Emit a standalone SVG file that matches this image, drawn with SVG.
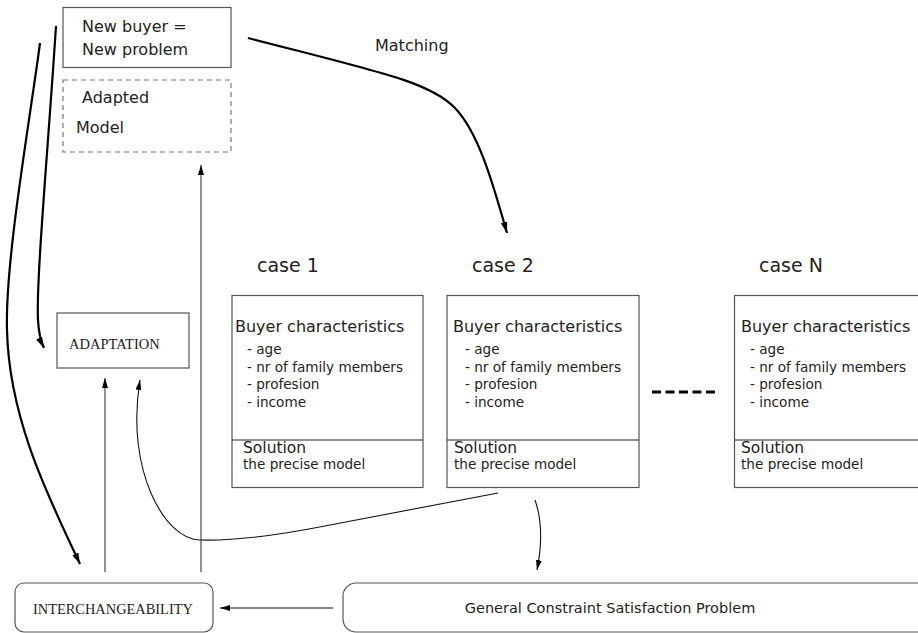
<svg xmlns="http://www.w3.org/2000/svg" width="918" height="633" viewBox="0 0 918 633">
<defs>
<style>
.box{fill:#fff;stroke:#555;stroke-width:1.2}
.dash{fill:none;stroke:#777;stroke-width:1.2;stroke-dasharray:5,4}
.sans{font-family:"DejaVu Sans","Liberation Sans",sans-serif;fill:#222}
.serif{font-family:"Liberation Serif","Times New Roman",serif;fill:#222}
.t16{font-size:16px}
.t13{font-size:13.6px}
.t15{font-size:15.5px}
.case{font-size:19px}
.thick{fill:none;stroke:#000;stroke-width:2.2}
.thin{fill:none;stroke:#111;stroke-width:1.1}
.gray{fill:none;stroke:#777;stroke-width:1.6}
.div{stroke:#222;stroke-width:1.1}
</style>
<marker id="ah" viewBox="0 0 10 6" refX="10" refY="3" markerWidth="11" markerHeight="7" markerUnits="userSpaceOnUse" orient="auto"><path d="M0,0 L10,3 L0,6 z" fill="#000"/></marker>
<marker id="ahs" viewBox="0 0 10 6" refX="10" refY="3" markerWidth="10" markerHeight="6" markerUnits="userSpaceOnUse" orient="auto"><path d="M0,0 L10,3 L0,6 z" fill="#000"/></marker>
</defs>
<rect width="918" height="633" fill="#fff"/>

<g id="connectors">
<path class="thick" d="M248,38 C 380,72 430,82 455,108 C 478,132 492,180 507,233" marker-end="url(#ah)"/>
<path class="thick" d="M40,43 C 30,120 5,260 7,330 C 9,420 50,500 80,564" marker-end="url(#ah)"/>
<path class="thick" d="M56,26 C 48,150 36,280 38,320 Q 39,338 44,348" marker-end="url(#ah)"/>
<path class="gray" d="M105,572 L105,378" marker-end="url(#ahs)"/>
<path class="gray" d="M201,572 L201,165" marker-end="url(#ahs)"/>
<path class="thin" d="M498,493 L330,525 C 270,537 230,541 200,540 C 165,540 125,470 140,380" marker-end="url(#ahs)"/>
<path class="thin" d="M535,500 C 542,520 542,545 537,570" marker-end="url(#ahs)"/>
<path class="thin" d="M333,608 L220,608" marker-end="url(#ahs)"/>
<line x1="652" y1="392" x2="715" y2="392" stroke="#000" stroke-width="3" stroke-dasharray="9,4.5"/>
<text class="sans t16" x="375" y="51">Matching</text>
</g>

<g id="new-buyer">
<rect class="box" x="63" y="7.5" width="168" height="60"/>
<text class="sans t16" x="82" y="32">New buyer =</text>
<text class="sans t16" x="82" y="55">New problem</text>
</g>

<g id="adapted-model">
<rect class="dash" x="63" y="80" width="168" height="72"/>
<text class="sans t16" x="82" y="103">Adapted</text>
<text class="sans t16" x="76" y="133">Model</text>
</g>

<g id="adaptation">
<rect class="box" x="57" y="313" width="132" height="55"/>
<text class="serif" font-size="14.5" x="69" y="349">ADAPTATION</text>
</g>

<g id="interchangeability">
<rect class="box" x="15" y="583" width="198" height="49" rx="9"/>
<text class="serif" font-size="14.4" x="33" y="614">INTERCHANGEABILITY</text>
</g>

<g id="gcsp">
<rect class="box" x="343" y="583" width="590" height="49" rx="13"/>
<text class="sans" font-size="14.5" x="610" y="613" text-anchor="middle">General Constraint Satisfaction Problem</text>
</g>

<g id="case1">
<text class="sans case" x="257" y="272">case 1</text>
<rect class="box" x="232" y="295.5" width="191" height="192"/>
<line class="div" x1="232" y1="440" x2="423" y2="440"/>
<text class="sans t16" x="235" y="332">Buyer characteristics</text>
<text class="sans t13" x="247" y="354">- age</text>
<text class="sans t13" x="247" y="371.5">- nr of family members</text>
<text class="sans t13" x="247" y="389">- profesion</text>
<text class="sans t13" x="247" y="406.5">- income</text>
<text class="sans t15" x="243" y="453">Solution</text>
<text class="sans t13" x="243" y="469">the precise model</text>
</g>

<g id="case2">
<text class="sans case" x="472" y="272">case 2</text>
<rect class="box" x="447" y="295.5" width="192" height="192"/>
<line class="div" x1="447" y1="440" x2="639" y2="440"/>
<text class="sans t16" x="453" y="332">Buyer characteristics</text>
<text class="sans t13" x="465" y="354">- age</text>
<text class="sans t13" x="465" y="371.5">- nr of family members</text>
<text class="sans t13" x="465" y="389">- profesion</text>
<text class="sans t13" x="465" y="406.5">- income</text>
<text class="sans t15" x="454" y="453">Solution</text>
<text class="sans t13" x="454" y="469">the precise model</text>
</g>

<g id="caseN">
<text class="sans case" x="759" y="272">case N</text>
<rect class="box" x="734.5" y="295.5" width="192" height="192"/>
<line class="div" x1="734.5" y1="440" x2="918" y2="440"/>
<text class="sans t16" x="741" y="332">Buyer characteristics</text>
<text class="sans t13" x="750" y="354">- age</text>
<text class="sans t13" x="750" y="371.5">- nr of family members</text>
<text class="sans t13" x="750" y="389">- profesion</text>
<text class="sans t13" x="750" y="406.5">- income</text>
<text class="sans t15" x="741" y="453">Solution</text>
<text class="sans t13" x="741" y="469">the precise model</text>
</g>
</svg>
